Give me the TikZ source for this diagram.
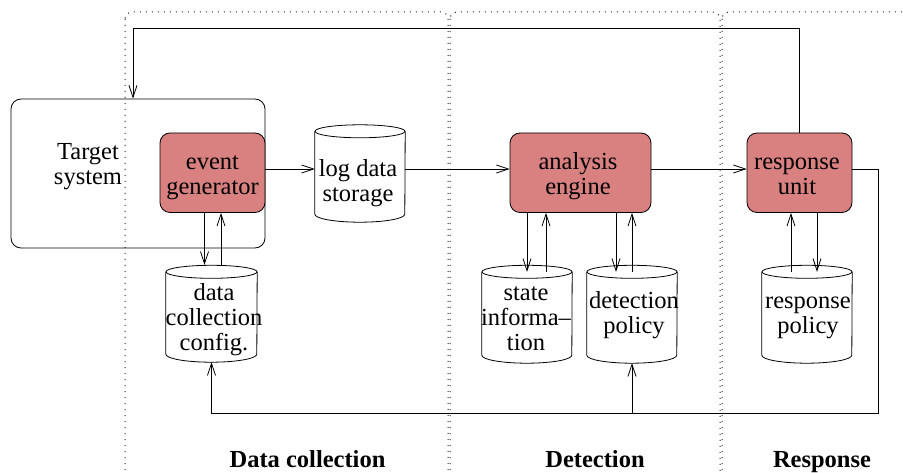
\documentclass[tikz,border=0pt]{standalone}
\usepackage{fontspec}
\setmainfont{Liberation Serif}
\usetikzlibrary{arrows.meta}
\definecolor{boxred}{RGB}{217,128,128}
\newcommand\cylout[2]{%
  \draw[ln] (#1.north) ellipse[x radius=#2pt, y radius=6.5pt];
  \draw[ln] (#1.north west) -- (#1.south west)
     arc[start angle=180, end angle=360, x radius=#2pt, y radius=8pt]
     -- (#1.north east);}
\begin{document}
\begin{tikzpicture}[x=1pt,y=-1pt,
  ln/.style={line width=0.8pt, draw=black},
  arr/.style={ln, -{Straight Barb[length=12pt,width=8pt]}},
  region/.style={line width=1pt, draw=black!85, dash pattern=on 1pt off 5pt, rounded corners=7pt},
  txt/.style={align=center, inner sep=0pt, font=\fontsize{24.5}{25}\selectfont},
  lbl/.style={inner sep=0pt, font=\fontsize{24.5}{25}\selectfont\bfseries},
  proc/.style={ln, fill=boxred, rounded corners=10pt, inner sep=0pt},
  body/.style={inner sep=0pt, minimum width=#1, draw=none},
]
\useasboundingbox (0,0) rectangle (903,473);

% region frames
\begin{scope}
  \clip (0,0) rectangle (903,473);
  \draw[region] (125,12) rectangle (448,482);
  \draw[region] (450,12) rectangle (720,482);
  \draw[region] (722,12) rectangle (920,482);
\end{scope}

% target system
\node[ln, rounded corners=10pt, minimum width=254pt, minimum height=149pt, inner sep=0pt] (ts) at (138,173.5) {};
\node[txt] (tstext) at (88,167.5) {\strut Target\\system\strut};

% process boxes
\node[proc, minimum width=105pt, minimum height=79.5pt] (eg) at (212.5,172.75) {};
\node[txt] (egtext) at (212.5,177) {\strut event\\generator\strut};
\node[proc, minimum width=141pt, minimum height=79.5pt] (ae) at (580.5,172.75) {};
\node[txt] (aetext) at (578,177) {\strut analysis\\engine\strut};
\node[proc, minimum width=105pt, minimum height=79.5pt] (ru) at (799.5,172.75) {};
\node[txt] (rutext) at (797,177) {\strut response\\unit\strut};

% data stores (cylinders)
\node[body=90pt, minimum height=82.5pt] (log) at (360,172.75) {};
\cylout{log}{45}
\node[txt] (logtext) at (358,184.5) {\strut log data\\storage\strut};

\node[body=91pt, minimum height=82pt] (dcc) at (211.5,313) {};
\cylout{dcc}{45.5}
\node[txt] (dcctext) at (214,320.5) {\strut data\\collection\\config.\strut};

\node[body=90pt, minimum height=83pt] (st) at (527,313.5) {};
\cylout{st}{45}
\node[txt] (sttext) at (526,320.5) {\strut state\\informa–\\tion\strut};

\node[body=90pt, minimum height=83pt] (dp) at (632,313.5) {};
\cylout{dp}{45}
\node[txt] (dptext) at (634,316) {\strut detection\\policy\strut};

\node[body=90pt, minimum height=83pt] (rp) at (807,313.5) {};
\cylout{rp}{45}
\node[txt] (rptext) at (808,316) {\strut response\\policy\strut};

% phase labels
\node[lbl] (l1) at (307.5,462) {\strut Data collection};
\node[lbl] (l2) at (595,462) {\strut Detection};
\node[lbl] (l3) at (822,462) {\strut Response};

% helper coordinates
\coordinate (mainrow) at (0,169);
\coordinate (fb) at (133,28);
\coordinate (br) at (878,413);

% main flow
\draw[arr] (eg.east |- mainrow) -- (log.west |- mainrow);
\draw[arr] (log.east |- mainrow) -- (ae.west |- mainrow);
\draw[arr] (ae.east |- mainrow) -- (ru.west |- mainrow);

% feedback to target system
\draw[arr] (ru.north) |- (fb) -- (fb |- ts.north);

% configuration feedback
\draw[arr] (ru.east |- mainrow) -| (br) -| ([yshift=-8pt]dcc.south);
\draw[arr] (dp.south |- br) -- ([yshift=-8pt]dp.south);

% event generator <-> config
\draw[arr] ([xshift=-8pt]eg.south) -- ([xshift=-8pt,yshift=7pt]eg.south |- dcc.north);
\draw[arr] ([xshift=8.5pt,yshift=6.5pt]eg.south |- dcc.north) -- ([xshift=8.5pt]eg.south);

% analysis engine <-> stores
\draw[arr] (ae.south -| st.north) -- (st.north);
\draw[arr] ([xshift=19pt]st.north) -- ([xshift=19pt]st.north |- ae.south);
\draw[arr] ([xshift=-16pt]dp.north |- ae.south) -- ([xshift=-16pt]dp.north);
\draw[arr] (dp.north) -- (dp.north |- ae.south);

% response unit <-> response policy
\draw[arr] ([xshift=-16pt]rp.north) -- ([xshift=-16pt]rp.north |- ru.south);
\draw[arr] ([xshift=10pt]rp.north |- ru.south) -- ([xshift=10pt]rp.north);
\end{tikzpicture}
\end{document}
